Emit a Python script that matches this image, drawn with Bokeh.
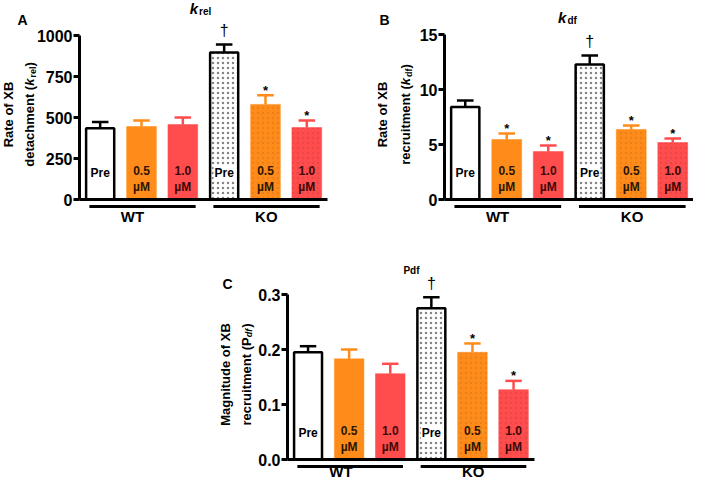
import math
from bokeh.plotting import figure
from bokeh.models import Range1d, FixedTicker, LinearAxis, Spacer
from bokeh.layouts import row, column
from bokeh.embed import file_html
from bokeh.resources import INLINE
from bokeh.core.properties import value

FONT = "Liberation Sans"
ORANGE = "#FF8C1A"
RED = "#FF4D4D"

# ---------------- data ----------------
genotype = ["WT", "WT", "WT", "KO", "KO", "KO"]
treatment = ["Pre", "0.5", "1.0", "Pre", "0.5", "1.0"]
unit = ["", "µM", "µM", "", "µM", "µM"]
groups = ["WT", "KO"]

krel_mean = [435, 445, 457, 896, 580, 439]
krel_sem = [37, 37, 43, 49, 55, 43]
kdf_mean = [8.4, 5.45, 4.36, 12.27, 6.36, 5.18]
kdf_sem = [0.6, 0.55, 0.55, 0.82, 0.37, 0.37]
pdf_mean = [0.195, 0.183, 0.156, 0.275, 0.195, 0.127]
pdf_sem = [0.011, 0.017, 0.018, 0.020, 0.016, 0.016]

krel_marks = ["", "", "", "†", "*", "*"]
kdf_marks = ["", "*", "*", "†", "*", "*"]
pdf_marks = ["", "", "", "†", "*", "*"]

krel_ticks = [0, 250, 500, 750, 1000]
krel_tick_labels = ["0", "250", "500", "750", "1000"]
kdf_ticks = [0, 5, 10, 15]
kdf_tick_labels = ["0", "5", "10", "15"]
pdf_ticks = [0.0, 0.1, 0.2, 0.3]
pdf_tick_labels = ["0.0", "0.1", "0.2", "0.3"]

# ---------------- styles ----------------
FILL = {"Pre": "white", "0.5": ORANGE, "1.0": RED}
EDGE = {"Pre": "black", "0.5": ORANGE, "1.0": RED}
TXT = {"Pre": "black", "0.5": "#2b1600", "1.0": "#3d0808"}

W = {' ': 278, '(': 333, ')': 333, 'a': 556, 'b': 611, 'c': 556, 'd': 611, 'e': 556,
     'f': 333, 'g': 611, 'h': 611, 'i': 278, 'k': 556, 'l': 278, 'm': 889, 'n': 611,
     'o': 611, 'r': 389, 't': 333, 'u': 611, 'M': 833, 'P': 667, 'R': 722, 'X': 667, 'B': 722}


def tw(s, size, style):
    w = sum(W.get(c, 556) for c in s) * size / 1000.0
    if "italic" in style:
        w += 1.0
    return w


def txt(p, x, y, s, size, style="bold", align="left", baseline="alphabetic", angle=0.0,
        color="black", **kw):
    p.text(x=x, y=y, text=s, text_align=align, text_baseline=baseline, angle=angle,
           text_font=value(FONT), text_font_size=f"{size}px", text_font_style=style,
           text_color=color, **kw)


def make_panel(g, mean, sem, marks, ticks, tick_labels, title, ylab1, ylab2, letter):
    ppx, ppy = g["ppx"], g["ppy"]

    def X(rx):
        return -0.5 + (rx - g["ax"]) / ppx

    def Y(ry):
        return (g["y0"] - ry) / ppy

    L, R, T, H = g["L"], g["R"], g["top"], g["h"]
    p = figure(width=R - L, height=H,
               x_range=Range1d(X(L), X(R)), y_range=Range1d(Y(T + H), Y(T)),
               x_axis_type=None, y_axis_type=None, toolbar_location=None,
               output_backend="svg", min_border_left=0, min_border_right=0,
               min_border_top=0, min_border_bottom=0,
               outline_line_color=None, background_fill_color="white",
               border_fill_color="white")

    ax = LinearAxis(ticker=FixedTicker(ticks=ticks),
                    major_label_overrides={t: l for t, l in zip(ticks, tick_labels)},
                    bounds=(ticks[0], ticks[-1]), fixed_location=X(g["ax"]),
                    axis_line_width=3, axis_line_color="black",
                    major_tick_line_width=3, major_tick_line_color="black",
                    major_tick_out=6, major_tick_in=0,
                    minor_tick_out=0, minor_tick_in=0, minor_tick_line_color=None,
                    major_label_standoff=1,
                    major_label_text_font=FONT, major_label_text_font_size="16px",
                    major_label_text_font_style="bold", major_label_text_color="black")
    p.add_layout(ax, "left")

    xs = list(range(len(mean)))
    err = [m + s for m, s in zip(mean, sem)]

    # bars
    p.vbar(x=xs, top=mean, bottom=0,
           width=[0.68 if t == "Pre" else 0.72 for t in treatment],
           fill_color=[FILL[t] for t in treatment],
           line_color=[EDGE[t] for t in treatment],
           line_width=[2.5 if t == "Pre" else 0.5 for t in treatment],
           hatch_pattern=["." if gg == "KO" else " " for gg in genotype],
           hatch_color=["#777777" if t == "Pre" else "#000000" for t in treatment],
           hatch_alpha=[0.9 if t == "Pre" else 0.08 for t in treatment],
           hatch_scale=5, hatch_weight=1)

    # error bars (upper half)
    ecol = [EDGE[t] for t in treatment]
    p.segment(x0=xs, y0=mean, x1=xs, y1=err, line_color=ecol, line_width=2.5)
    p.segment(x0=[x - 0.2 for x in xs], y0=err, x1=[x + 0.2 for x in xs], y1=err,
              line_color=ecol, line_width=2.5)

    # significance marks
    dag = [i for i, m in enumerate(marks) if m == "†"]
    star = [i for i, m in enumerate(marks) if m == "*"]
    txt(p, [xs[i] for i in dag], [err[i] for i in dag], [marks[i] for i in dag], 16,
        style="normal", align="center", baseline="middle", y_offset=-14)
    txt(p, [xs[i] for i in star], [err[i] for i in star], [marks[i] for i in star], 13,
        align="center", baseline="middle", y_offset=-5)

    # labels inside the bars
    pre = [i for i, t in enumerate(treatment) if t == "Pre"]
    dose = [i for i, t in enumerate(treatment) if t != "Pre"]
    txt(p, [xs[i] for i in pre], [0] * len(pre), [treatment[i] for i in pre], 12,
        align="center", baseline="middle", y_offset=-27,
        background_fill_color="white", padding=1)
    txt(p, [xs[i] for i in dose], [0] * len(dose), [treatment[i] for i in dose], 12,
        align="center", baseline="middle", y_offset=-29,
        color=[TXT[treatment[i]] for i in dose])
    txt(p, [xs[i] for i in dose], [0] * len(dose), [unit[i] for i in dose], 12,
        align="center", baseline="middle", y_offset=-13,
        color=[TXT[treatment[i]] for i in dose])

    # baseline
    p.segment(x0=[X(g["ax"])], y0=[0], x1=[X(g["base_end"])], y1=[0],
              line_color="black", line_width=3)

    # group lines + labels
    gy = Y(g["y0"] + 7)
    for k, gname in enumerate(groups):
        idx = [i for i, gg in enumerate(genotype) if gg == gname]
        lo, hi = min(idx), max(idx)
        p.segment(x0=[lo - 0.26], y0=[gy], x1=[hi + 0.31], y1=[gy], line_color="black", line_width=3)
        cx = (lo + hi) / 2 + g["glab_dx"][k]
        txt(p, [cx], [0], [gname], 15, align="center", baseline="middle", y_offset=g["glab_off"])

    # title
    tot = sum(tw(s, sz, st) for s, sz, st, dy in title)
    cur = g["title_cx"] - tot / 2
    for s, sz, st, dy in title:
        txt(p, [X(cur)], [Y(g["title_by"] + dy)], [s], sz, style=st)
        cur += tw(s, sz, st)

    # panel letter
    txt(p, [X(g["letter"][0])], [Y(g["letter"][1])], [letter], 14)

    # y-axis title: two rotated lines
    txt(p, [X(g["yl1_x"])], [Y(g["yl_cy"])], [ylab1], 13, align="center", baseline="middle",
        angle=math.pi / 2)
    tot = sum(tw(s, sz, st) for s, sz, st, dy in ylab2)
    cur = g["yl_cy"] + tot / 2
    for s, sz, st, dy in ylab2:
        txt(p, [X(g["yl2_x"] + 4.5 + dy)], [Y(cur)], [s], sz, style=st, angle=math.pi / 2)
        cur -= tw(s, sz, st)
    return p


# geometry in reference-image pixels (figure covers ref x L..R, y top..top+h)
gA = dict(ax=80, ppx=41.33, y0=203, ppy=0.164, L=1, R=374, top=4, h=240, base_end=328,
          title_cx=201, title_by=12, yl1_x=9, yl2_x=25.5, yl_cy=118, letter=(18, 23),
          glab_dx=[-0.22, 0.02], glab_off=17)
gB = dict(ax=460, ppx=41.5, y0=203, ppy=11.0, L=374 + 15, R=709, top=4, h=240, base_end=709,
          title_cx=583, title_by=21, yl1_x=397.5, yl2_x=416.5, yl_cy=118, letter=(395, 23),
          glab_dx=[-0.22, 0.02], glab_off=17)
gC = dict(ax=297, ppx=41.1, y0=472, ppy=550.0, L=218, R=546, top=253, h=239, base_end=544,
          title_cx=421, title_by=283, yl1_x=235, yl2_x=251, yl_cy=387, letter=(232, 296),
          glab_dx=[-0.2, 0.02], glab_off=12)

pA = make_panel(gA, krel_mean, krel_sem, krel_marks, krel_ticks, krel_tick_labels,
                [("k", 15, "bold italic", 0), ("rel", 10, "bold", 3)],
                "Rate of XB",
                [("detachment (", 13, "bold", 0), ("k", 13, "bold italic", 0),
                 ("rel", 9, "bold", 3), (")", 13, "bold", 0)], "A")
pB = make_panel(gB, kdf_mean, kdf_sem, kdf_marks, kdf_ticks, kdf_tick_labels,
                [("k", 15, "bold italic", 0), ("df", 10, "bold", 3)],
                "Rate of XB",
                [("recruitment (", 13, "bold", 0), ("k", 13, "bold italic", 0),
                 ("df", 9, "bold", 3), (")", 13, "bold", 0)], "B")
pC = make_panel(gC, pdf_mean, pdf_sem, pdf_marks, pdf_ticks, pdf_tick_labels,
                [("Pdf", 10, "bold", 0)],
                "Magnitude of XB",
                [("recruitment (", 13, "bold", 0), ("P", 13, "bold", 0),
                 ("df", 9, "bold italic", 3), (")", 13, "bold", 0)], "C")

layout = column(row(pA, pB),
                row(Spacer(width=208, height=239), pC))
open("out.html", "w").write(file_html(layout, INLINE))
